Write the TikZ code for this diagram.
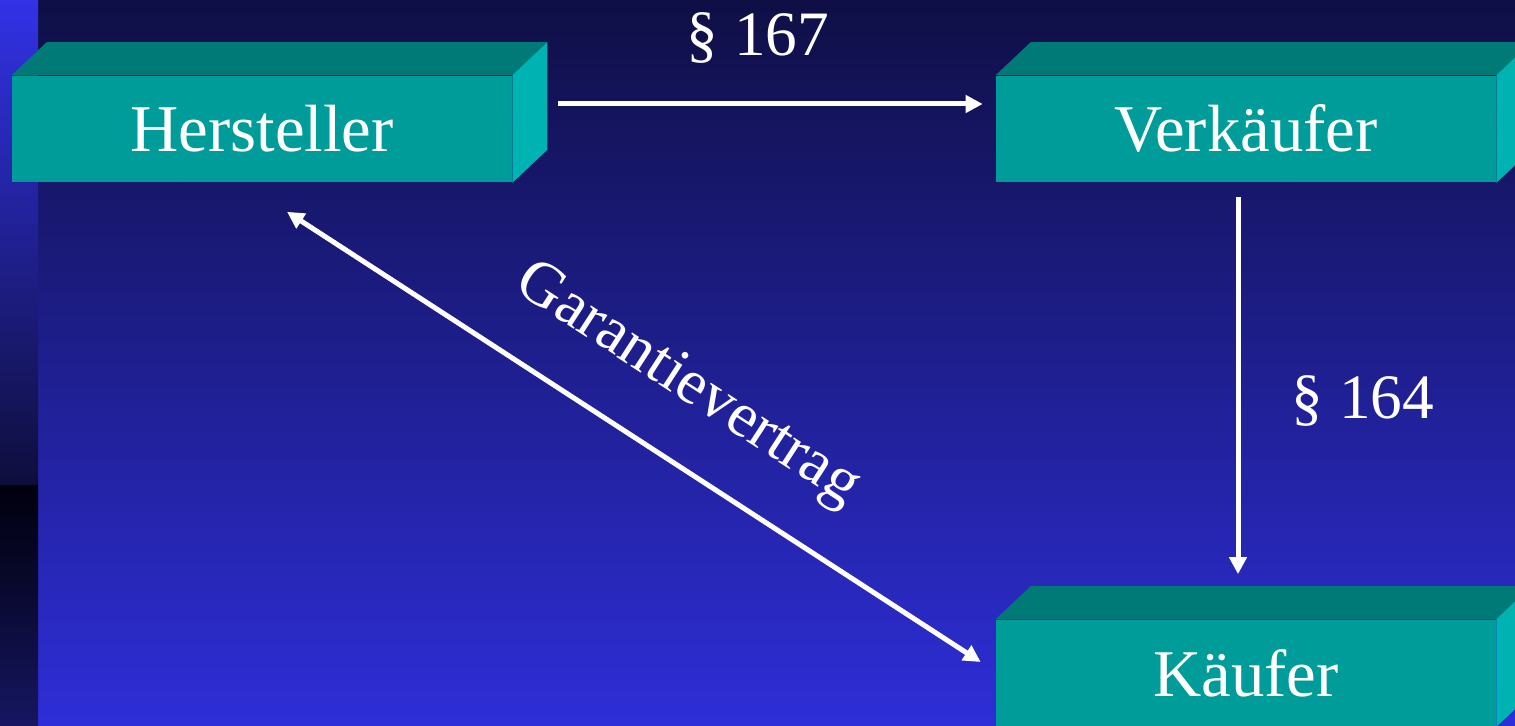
\documentclass[tikz,border=0pt]{standalone}
\usepackage{fontspec}
\setmainfont{Liberation Serif}
\usetikzlibrary{arrows.meta,positioning,calc}
\definecolor{bgtop}{HTML}{0F0F46}
\definecolor{bgbottom}{HTML}{2E2ED8}
\definecolor{stripa}{HTML}{3232E6}
\definecolor{stripb}{HTML}{0E0E3C}
\definecolor{stripc}{HTML}{00000E}
\definecolor{stripd}{HTML}{161662}
\definecolor{frontteal}{HTML}{009C9A}
\definecolor{topteal}{HTML}{007A77}
\definecolor{sideteal}{HTML}{00B3B3}
\tikzset{partybox/.style={fill=frontteal,minimum width=10cm,minimum height=2.14cm,inner sep=0pt,text=white,font=\fontsize{38}{44}\selectfont},partyarr/.style={-{Triangle[length=0.34cm,width=0.34cm]},line width=0.1cm,draw=white},partylabel/.style={text=white,font=\fontsize{36}{42}\selectfont}}
\newcommand{\boxdepth}[1]{%
\fill[topteal] (#1.north west) -- ++(35,-33) -- ([shift={(35,-33)}]#1.north east) -- (#1.north east) -- cycle;
\fill[sideteal] (#1.north east) -- ++(35,-33) -- ([shift={(35,-33)}]#1.south east) -- (#1.south east) -- cycle;}
\begin{document}
\begin{tikzpicture}[x=0.02cm,y=-0.02cm]
\useasboundingbox (0,0) rectangle (1515,726);
\clip (0,0) rectangle (1515,726);
% background and left strip
\shade[top color=bgtop,bottom color=bgbottom] (38,0) rectangle (1515,726);
\shade[top color=stripa,bottom color=stripb] (0,0) rectangle (38,485);
\shade[top color=stripc,bottom color=stripc!70!stripd] (0,485) rectangle (38,565);
\shade[top color=stripc!70!stripd,bottom color=stripd] (0,565) rectangle (38,726);
% parties
\node[partybox] (hersteller) at (262,129) {Hersteller};
\node[partybox] (verkaeufer) at (1246,129) {Verkäufer};
\node[partybox] (kaeufer) at (1246,673) {Käufer};
\boxdepth{hersteller}
\boxdepth{verkaeufer}
\boxdepth{kaeufer}
% relations
\draw[partyarr] ([shift={(46,-25)}]hersteller.east) -- node[partylabel,pos=0.47,yshift=1.32cm]{\S~167} ([shift={(-13,-25)}]verkaeufer.west);
\draw[partyarr] ([shift={(-8,14)}]verkaeufer.south) -- node[partylabel,pos=0.54,xshift=2.5cm]{\S~164} ([shift={(-8,-45)}]kaeufer.north);
\draw[partyarr,{Triangle[length=0.34cm,width=0.34cm]}-{Triangle[length=0.34cm,width=0.34cm]}] ([shift={(25,29)}]hersteller.south) -- node[partylabel,sloped,pos=0.52,yshift=1.44cm]{Garantievertrag} ([shift={(-15,-11)}]kaeufer.west);
\end{tikzpicture}
\end{document}
